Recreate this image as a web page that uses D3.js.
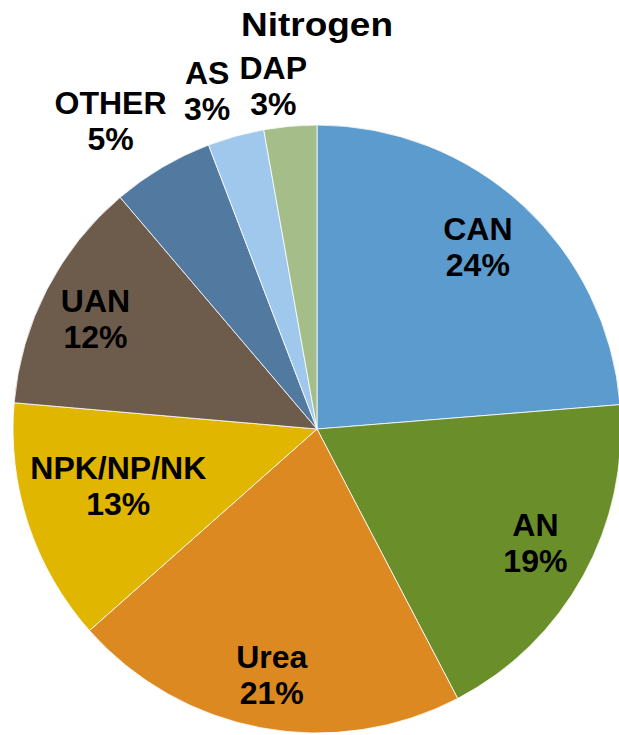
<!DOCTYPE html>
<html>
<head>
<meta charset="utf-8">
<script src="https://cdn.jsdelivr.net/npm/d3@7"></script>
<style>
  body { margin: 0; background: #fff; }
  text { font-family: "Liberation Sans", Arial, sans-serif; font-weight: bold; fill: #000; }
</style>
</head>
<body>
<script>
// data, clockwise from 12 o'clock
const categories = ["CAN", "AN", "Urea", "NPK/NP/NK", "UAN", "OTHER", "AS", "DAP"];
const shares = [23.7, 18.6, 21.1, 12.9, 12.4, 5.4, 3.0, 2.8];
const colors = ["#5b9bcd", "#6a8e29", "#dc8922", "#e0b600", "#6d5c4c", "#52799f", "#9fc8ec", "#a4bd89"];

// label placement (fraction of radius, angular nudge in degrees)
const labelRadius = [0.80, 0.81, 0.82, 0.68, 0.815, 1.22, 1.17, 1.14];
const labelNudge = [-1.3, -1.4, 0, 2.3, -0.7, -3.2, -2.5, -2.2];

const width = 619, height = 735;
const cx = 317, cy = 429, r = 304;
const lineGap = 36;

const svg = d3.select("body").append("svg")
  .attr("width", width)
  .attr("height", height);

// title
svg.append("text")
  .attr("x", cx)
  .attr("y", 36)
  .attr("text-anchor", "middle")
  .attr("textLength", 152)
  .attr("lengthAdjust", "spacingAndGlyphs")
  .style("font-size", "34px")
  .text("Nitrogen");

const total = d3.sum(shares);
const data = categories.map((c, i) => ({
  label: c,
  value: shares[i],
  color: colors[i],
  pct: Math.round(shares[i] / total * 100),
  lr: labelRadius[i],
  nudge: labelNudge[i]
}));

const pie = d3.pie().sort(null).value(d => d.value);
const arcs = pie(data);

const arc = d3.arc().innerRadius(0).outerRadius(r);

const g = svg.append("g").attr("transform", `translate(${cx},${cy})`);

g.selectAll("path")
  .data(arcs)
  .join("path")
  .attr("d", arc)
  .attr("fill", d => d.data.color)
  .attr("stroke", "#fff")
  .attr("stroke-width", 0.8);

function labelPos(d) {
  const a = (d.startAngle + d.endAngle) / 2 + d.data.nudge * Math.PI / 180;
  const rr = r * d.data.lr;
  return [Math.sin(a) * rr, -Math.cos(a) * rr];
}

const labels = g.selectAll("g.lbl")
  .data(arcs)
  .join("g")
  .attr("class", "lbl")
  .attr("transform", d => {
    const p = labelPos(d);
    return `translate(${p[0]},${p[1]})`;
  });

labels.append("text")
  .attr("text-anchor", "middle")
  .attr("y", -6.5)
  .style("font-size", "32px")
  .text(d => d.data.label);

labels.append("text")
  .attr("text-anchor", "middle")
  .attr("y", -6.5 + lineGap)
  .style("font-size", "32px")
  .text(d => d.data.pct + "%");
</script>
</body>
</html>
